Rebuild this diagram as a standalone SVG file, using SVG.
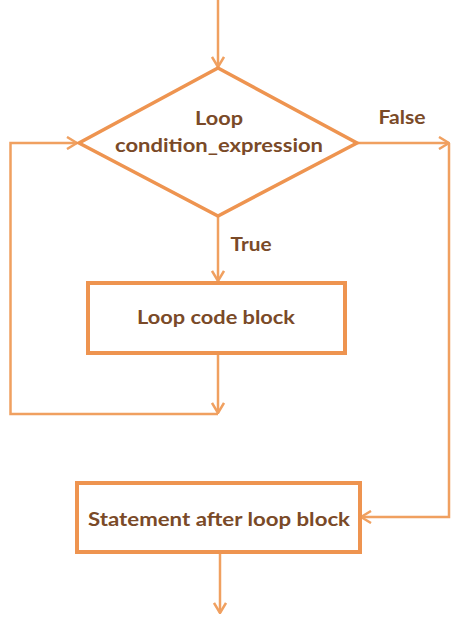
<svg xmlns="http://www.w3.org/2000/svg" width="452" height="618" viewBox="0 0 452 618">
<defs>
<style>
.ln{fill:none;stroke:#f0a060;stroke-width:2.5;stroke-linejoin:miter}
.box{fill:#ffffff;stroke:#ee9450;stroke-width:4}
.dia{fill:#ffffff;stroke:#ee9450;stroke-width:3.5}
.t{font-family:Lato,"Open Sans",sans-serif;font-weight:bold;font-size:19px;fill:#7a4a28;text-anchor:middle}
</style>
<marker id="ah" viewBox="0 0 12 14" refX="11" refY="7" markerWidth="12" markerHeight="14" markerUnits="userSpaceOnUse" orient="auto">
<path d="M1,1 L11,7 L1,13" fill="none" stroke="#f0a060" stroke-width="2.5"/>
</marker>
</defs>
<rect width="452" height="618" fill="#ffffff"/>
<g id="connectors">
<line class="ln" x1="218" y1="0" x2="218" y2="67" marker-end="url(#ah)"/>
<line class="ln" x1="218" y1="216" x2="218" y2="281" marker-end="url(#ah)"/>
<line class="ln" x1="218" y1="354" x2="218" y2="413" marker-end="url(#ah)"/>
<polyline class="ln" points="218,414 10.5,414 10.5,143 77,143" marker-end="url(#ah)"/>
<line class="ln" x1="356" y1="143" x2="449" y2="143" marker-end="url(#ah)"/>
<polyline class="ln" points="449,143 449,517 361,517" marker-end="url(#ah)"/>
<line class="ln" x1="220" y1="553" x2="220" y2="613" marker-end="url(#ah)"/>
<text class="t" x="251" y="251" textLength="41" lengthAdjust="spacingAndGlyphs">True</text>
<text class="t" x="402" y="124" textLength="47" lengthAdjust="spacingAndGlyphs">False</text>
</g>
<g id="condition">
<polygon class="dia" points="218,68 357,143 218,216 79,143"/>
<text class="t" x="219" y="125" textLength="48" lengthAdjust="spacingAndGlyphs">Loop</text>
<text class="t" x="219" y="152" textLength="208" lengthAdjust="spacingAndGlyphs">condition_expression</text>
</g>
<g id="loop-body">
<rect class="box" x="88" y="283" width="257" height="70"/>
<text class="t" x="216" y="324" textLength="158" lengthAdjust="spacingAndGlyphs">Loop code block</text>
</g>
<g id="after-loop">
<rect class="box" x="77" y="483" width="283" height="69"/>
<text class="t" x="219" y="526" textLength="262" lengthAdjust="spacingAndGlyphs">Statement after loop block</text>
</g>
</svg>
